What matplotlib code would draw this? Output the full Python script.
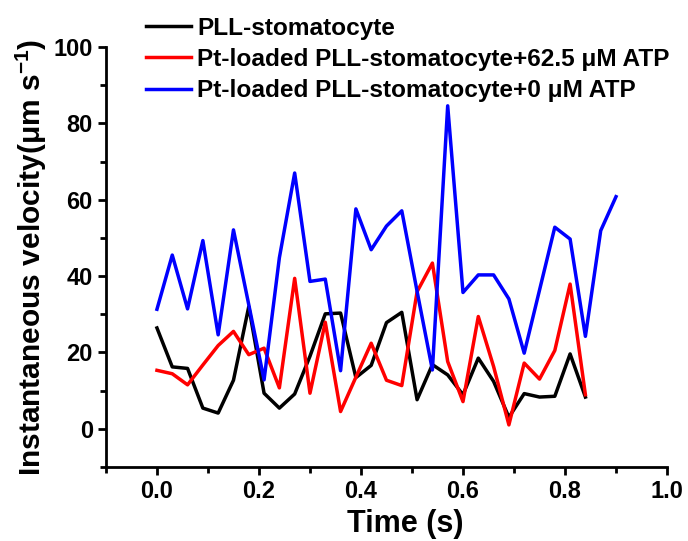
import numpy as np
import matplotlib
matplotlib.use('Agg')
import matplotlib.pyplot as plt

plt.rcParams['font.family'] = ['Liberation Sans', 'DejaVu Sans']
plt.rcParams['font.weight'] = 'bold'
plt.rcParams['mathtext.fontset'] = 'custom'
plt.rcParams['mathtext.rm'] = 'Liberation Sans:bold'
plt.rcParams['mathtext.bf'] = 'Liberation Sans:bold'
plt.rcParams['mathtext.default'] = 'bf'

# time axis (s), frames every 0.03 s
time_short = np.round(np.arange(29) * 0.03, 2)
time_long = np.round(np.arange(31) * 0.03, 2)

# instantaneous velocity (um/s)
pll_stomatocyte = [26.4, 16.2, 15.8, 5.4, 4.1, 12.7, 32.0, 9.3, 5.4, 9.1,
                   19.0, 30.1, 30.3, 13.4, 16.6, 27.8, 30.5, 7.6, 16.8, 14.1,
                   8.9, 18.5, 12.4, 3.0, 9.2, 8.3, 8.5, 19.6, 8.3]
pt_atp_62 = [15.3, 14.4, 11.5, 16.7, 21.8, 25.5, 19.4, 21.1, 10.7, 39.4,
             9.3, 27.9, 4.5, 13.5, 22.4, 12.7, 11.3, 35.9, 43.4, 17.6,
             7.1, 29.4, 16.3, 1.0, 17.2, 13.0, 20.5, 37.9, 8.9]
pt_atp_0 = [31.3, 45.5, 31.4, 49.3, 24.6, 52.1, 32.5, 12.8, 44.8, 67.0,
            38.6, 39.2, 15.2, 57.6, 46.9, 53.1, 57.1, 36.0, 15.4, 84.6,
            35.7, 40.3, 40.3, 34.0, 19.8, 36.3, 52.8, 49.7, 24.2, 51.9, 60.8]

labels = ['PLL-stomatocyte',
          'Pt-loaded PLL-stomatocyte+62.5 \u03bcM ATP',
          'Pt-loaded PLL-stomatocyte+0 \u03bcM ATP']

fig = plt.figure(figsize=(6.88, 5.41), dpi=100)
ax = fig.add_axes([0.154, 0.137, 0.8155, 0.776])

ax.plot(time_short, pll_stomatocyte, color='black', lw=2.5, label=labels[0])
ax.plot(time_short, pt_atp_62, color='red', lw=2.5, label=labels[1])
ax.plot(time_long, pt_atp_0, color='blue', lw=2.5, label=labels[2])

ax.set_xlim(-0.1, 1.0)
ax.set_ylim(-10, 100)
ax.set_xticks([0.0, 0.2, 0.4, 0.6, 0.8, 1.0])
ax.set_xticks(np.arange(-0.1, 1.0, 0.2), minor=True)
ax.set_yticks([0, 20, 40, 60, 80, 100])
ax.set_yticks(np.arange(-10, 100, 20), minor=True)

for side in ['top', 'right']:
    ax.spines[side].set_visible(False)
for side in ['left', 'bottom']:
    ax.spines[side].set_linewidth(2)

ax.tick_params(which='major', direction='out', length=6, width=2, labelsize=17)
ax.tick_params(which='minor', direction='out', length=4, width=2)
for lab in ax.get_xticklabels() + ax.get_yticklabels():
    lab.set_fontweight('bold')

ax.set_xlabel('Time (s)', fontsize=22, fontweight='bold')
ax.xaxis.set_label_coords(0.533, -0.1)
ax.set_ylabel('Instantaneous velocity(\u03bcm s$^{-1}$)', fontsize=21.5,
              fontweight='bold', labelpad=3)

leg = fig.legend(loc='upper left', bbox_to_anchor=(0.212, 0.9695), frameon=False,
                 prop={'size': 17.6, 'weight': 'bold'}, handlelength=1.85,
                 handletextpad=0.25, labelspacing=0.34, borderaxespad=0,
                 borderpad=0)
for line in leg.get_lines():
    line.set_linewidth(2.5)

fig.savefig('out.png', dpi=100)
